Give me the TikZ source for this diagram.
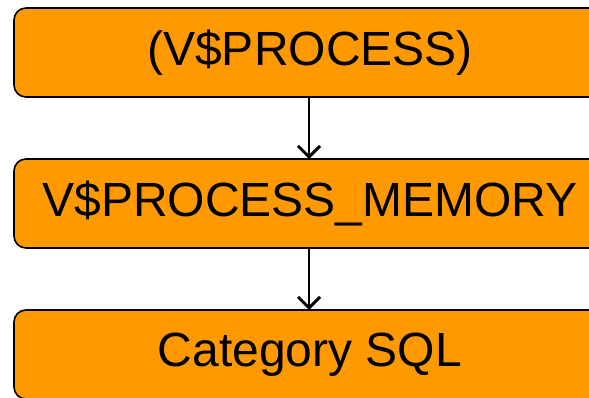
\documentclass[tikz,border=0pt]{standalone}
\usepackage{fontspec}
\setmainfont{Liberation Sans}
\usetikzlibrary{positioning,arrows.meta}
\definecolor{boxorange}{HTML}{FF9900}
\tikzset{view node/.style={rectangle,rounded corners=12pt,fill=boxorange,draw,line width=1.6pt,outer sep=0pt,
            minimum width=592pt,minimum height=89pt,inner sep=0pt,font=\fontsize{48}{56}\selectfont},
         view arrow/.style={-{Straight Barb[length=11pt,width=22pt,line width=3pt]},line width=1.6pt}
            }
\begin{document}
\begin{tikzpicture}[x=1pt,y=1pt]
    \useasboundingbox (0,0) rectangle (589,-398);
    \node[view node,anchor=north west] (1) at (14,-8) {(V\$PROCESS)};
    \node[view node] (2) [below =62pt of 1] {V\$PROCESS\_MEMORY};
    \node[view node] (3) [below =62pt of 2] {Category SQL};

    \path
    (1.south) ++(-1,0) coordinate (a1)
    (2.north) ++(-1,0) coordinate (b1)
    (2.south) ++(-1,0) coordinate (a2)
    (3.north) ++(-1,0) coordinate (b2);
    \draw[view arrow] (a1) -- (b1);
    \draw[view arrow] (a2) -- (b2);
    %%
\end{tikzpicture}
\end{document}
